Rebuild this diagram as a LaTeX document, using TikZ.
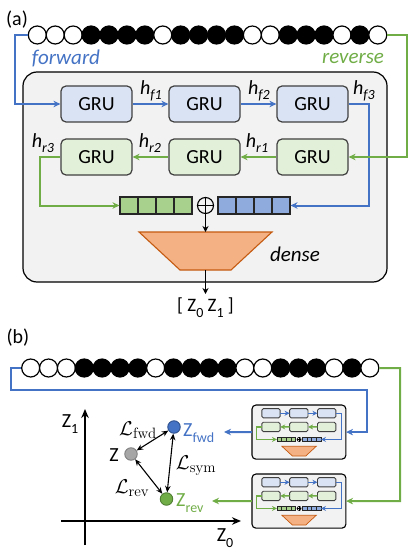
\RequirePackage{fix-cm}
\documentclass[tikz,border=0pt]{standalone}
\usepackage[no-math]{fontspec}
\setmainfont{Carlito}
\DeclareMathSizes{20}{20}{15}{12}
\usetikzlibrary{arrows.meta,calc}
\definecolor{cblue}{HTML}{4472C4}
\definecolor{cgreen}{HTML}{70AD47}
\definecolor{lblue}{HTML}{DAE3F3}
\definecolor{lgreen}{HTML}{E2F0D9}
\definecolor{vgreen}{HTML}{A9D18E}
\definecolor{vblue}{HTML}{8FAADC}
\definecolor{tfill}{HTML}{F4B183}
\definecolor{tdraw}{HTML}{C55A11}
\definecolor{boxgray}{HTML}{F2F2F2}
\definecolor{gborder}{HTML}{404040}
\definecolor{dblue}{HTML}{2F528F}
\definecolor{dgreen}{HTML}{507E32}
\definecolor{pgray}{HTML}{A6A6A6}
\definecolor{dgray}{HTML}{7F7F7F}
\newcommand\lsub[1]{\raisebox{-0.3em}{\fontsize{14}{14}\selectfont #1}}
\newcommand\hlab[1]{\textit{h}\raisebox{-0.28em}{\fontsize{14}{14}\selectfont\textit{#1}}}
\tikzset{
  arrw/.style={-{Stealth[length=7pt,width=6.5pt]}},
  wire/.style={line width=2pt},
  bigbox/.style={draw=black, fill=boxgray, rounded corners=14pt, line width=1.2pt, inner sep=0pt},
  grubox/.style={draw=gborder, rounded corners=5pt, line width=1.2pt, minimum width=71pt, minimum height=36pt, inner sep=0pt, font=\fontsize{20}{24}\selectfont},
  cell/.style={draw=black!85, line width=1.1pt, minimum width=18pt, minimum height=17pt, inner sep=0pt},
  oplus/.style={circle, draw=black, line width=1.1pt, minimum size=16pt, inner sep=0pt},
  opl/.style={line width=1.1pt},
  trap/.style={draw=tdraw, fill=tfill, line width=1.1pt},
  bead/.style={circle, draw=black, line width=1.2pt, minimum size=18pt, inner sep=0pt},
  lab/.style={font=\fontsize{20}{24}\selectfont, inner sep=0pt},
  pt/.style={circle, minimum size=12.5pt, inner sep=0pt, line width=0.9pt},
  dbl/.style={{Stealth[length=6.5pt,width=5.5pt]}-{Stealth[length=6.5pt,width=5.5pt]}, line width=1.1pt},
  axis/.style={-{Stealth[length=9pt,width=7.5pt]}, line width=1.5pt},
  mini/.style={arrw/.style={-{Stealth[length=5pt,width=5pt]}}, wire/.style={line width=1.5pt},
    bigbox/.append style={rounded corners=4pt, line width=1.1pt},
    grubox/.append style={rounded corners=1.5pt, line width=0.9pt},
    cell/.append style={line width=0.7pt}, oplus/.append style={line width=0.6pt},
    opl/.style={line width=0.6pt}, trap/.append style={line width=0.7pt}},
  pics/model/.style={code={
    \node[bigbox, minimum width=364pt, minimum height=210pt] (-box) at (182,105) {};
    \node[grubox, fill=lblue] (-f1) at (73.5,32) {#1};
    \node[grubox, fill=lblue] (-f2) at (181.5,32) {#1};
    \node[grubox, fill=lblue] (-f3) at (289.5,32) {#1};
    \node[grubox, fill=lgreen] (-r1) at (289.5,85) {#1};
    \node[grubox, fill=lgreen] (-r2) at (181.5,85) {#1};
    \node[grubox, fill=lgreen] (-r3) at (73.5,85) {#1};
    \draw[wire, draw=cblue, arrw] (-f1) -- (-f2);
    \draw[wire, draw=cblue, arrw] (-f2) -- (-f3);
    \draw[wire, draw=cgreen, arrw] (-r1) -- (-r2);
    \draw[wire, draw=cgreen, arrw] (-r2) -- (-r3);
    \foreach \k/\xx in {1/106,2/124,3/142,4/160} \node[cell, fill=vgreen] (-g\k) at (\xx,133.5) {};
    \foreach \k/\xx in {1/204,2/222,3/240,4/258} \node[cell, fill=vblue] (-b\k) at (\xx,133.5) {};
    \node[oplus] (-op) at (182.5,133.5) {};
    \draw[opl] (-op.north) -- (-op.south) (-op.west) -- (-op.east);
    \coordinate (-cf) at (346,133.5);
    \coordinate (-cr) at (17,133.5);
    \draw[wire, draw=cblue, arrw] (-f3.east) -| (-cf) -- (-b4.east);
    \draw[wire, draw=cgreen, arrw] (-r3.west) -| (-cr) -- (-g1.west);
    \draw[trap] (116,160) -- (249,160) -- (208,198) -- (157,198) -- cycle;
    \coordinate (-tt) at (182.5,160);
    \coordinate (-tb) at (182.5,198);
  }}
}
\begin{document}
\begin{tikzpicture}[x=1pt, y=-1pt]
\useasboundingbox (0,0) rectangle (415,556);
% ---------- (a) ----------
\node[lab] (la) at (17,20) {(a)};
\foreach \c [count=\i] in {white,white,white,black,black,black,black,white,black,black,black,black,white,white,black,black,black,white,black,white}
  \node[bead, fill=\c] (a\i) at ({37.3+17.92*(\i-1)},35) {};
\node[lab, text=cblue, font=\fontsize{21}{24}\selectfont\itshape] (fw) at (66,58) {forward};
\node[lab, text=cgreen, font=\fontsize{21}{24}\selectfont\itshape] (rv) at (353,58) {reverse};
\begin{scope}[shift={(23,72)}]
  \pic (m) {model=GRU};
\end{scope}
\coordinate (q1) at (15,104);
\coordinate (q2) at (407,157);
\draw[wire, draw=cblue, arrw] (a1.west) -| (q1) -- (m-f1.west);
\draw[wire, draw=cgreen, arrw] (a20.east) -| (q2) -- (m-r1.east);
\node[lab] (hf1) at (151,91) {\hlab{f1}};
\node[lab] (hf2) at (259,91) {\hlab{f2}};
\node[lab] (hf3) at (364,91) {\hlab{f3}};
\node[lab] (hr3) at (43,143) {\hlab{r3}};
\node[lab] (hr2) at (150,143) {\hlab{r2}};
\node[lab] (hr1) at (257,143) {\hlab{r1}};
\draw[line width=1.2pt, -{Stealth[length=6pt,width=6pt]}] (m-op.south) -- (m-tt);
\node[lab, font=\fontsize{21}{24}\selectfont\itshape] (dn) at (295,254) {dense};
\node[lab, font=\fontsize{19}{22}\selectfont] (zz) at (205.5,308) {[ Z\lsub{0} Z\lsub{1} ]};
\coordinate (outtip) at (205.5,294);
\draw[line width=1.2pt, -{Stealth[length=6pt,width=6pt]}] (m-tb) -- (outtip);
% ---------- (b) ----------
\node[lab] (lb) at (18,338) {(b)};
\foreach \c [count=\i] in {white,white,white,black,black,black,black,white,black,black,black,black,white,white,black,black,black,white,black,white}
  \node[bead, fill=\c] (b\i) at ({30.7+17.85*(\i-1)},368) {};
\begin{scope}[shift={(252,405)}, scale=0.258, transform shape, mini]
  \pic (u) {model={}};
\end{scope}
\begin{scope}[shift={(252,474)}, scale=0.258, transform shape, mini]
  \pic (l) {model={}};
\end{scope}
\coordinate (p1) at (11,390);
\coordinate (p2) at (367,390);
\coordinate (p3) at (400,501);
\draw[wire, draw=cblue, arrw] (b1.west) -| (p1) -- (p2) |- (u-box.east);
\draw[wire, draw=cgreen, arrw] (b20.east) -| (p3) -- (l-box.east);
\coordinate (ufe) at (224,432);
\coordinate (lfe) at (212,501);
\draw[wire, draw=cblue, arrw] (u-box.west) -- (ufe);
\draw[wire, draw=cgreen, arrw] (l-box.west) -- (lfe);
\node[lab, text=cblue, anchor=base west] (zfl) at (183,436) {Z\lsub{fwd}};
\node[lab, text=cgreen, anchor=base west] (zrl) at (176,506) {Z\lsub{rev}};
% axes
\coordinate (v0) at (85,545);
\coordinate (v1) at (85,409);
\coordinate (h0) at (61,521);
\coordinate (h1) at (241,521);
\draw[axis] (v0) -- (v1);
\draw[axis] (h0) -- (h1);
\node[lab] (z1) at (70,424) {Z\lsub{1}};
\node[lab] (z0) at (225,538) {Z\lsub{0}};
% points
\node[pt, fill=cblue, draw=dblue] (zf) at (174,427) {};
\node[pt, fill=pgray, draw=dgray] (zc) at (131,454) {};
\node[pt, fill=cgreen, draw=dgreen] (zr) at (166.5,499) {};
\node[lab] (zl) at (114,455) {Z};
\draw[dbl] (zc) -- (zf);
\draw[dbl] (zc) -- (zr);
\draw[dbl] (zf) -- (zr);
\node[lab] (lf) at (138,430) {$\mathcal{L}_{\mathrm{fwd}}$};
\node[lab] (ls) at (196,466) {$\mathcal{L}_{\mathrm{sym}}$};
\node[lab] (lr) at (132,488) {$\mathcal{L}_{\mathrm{rev}}$};
\end{tikzpicture}
\end{document}
